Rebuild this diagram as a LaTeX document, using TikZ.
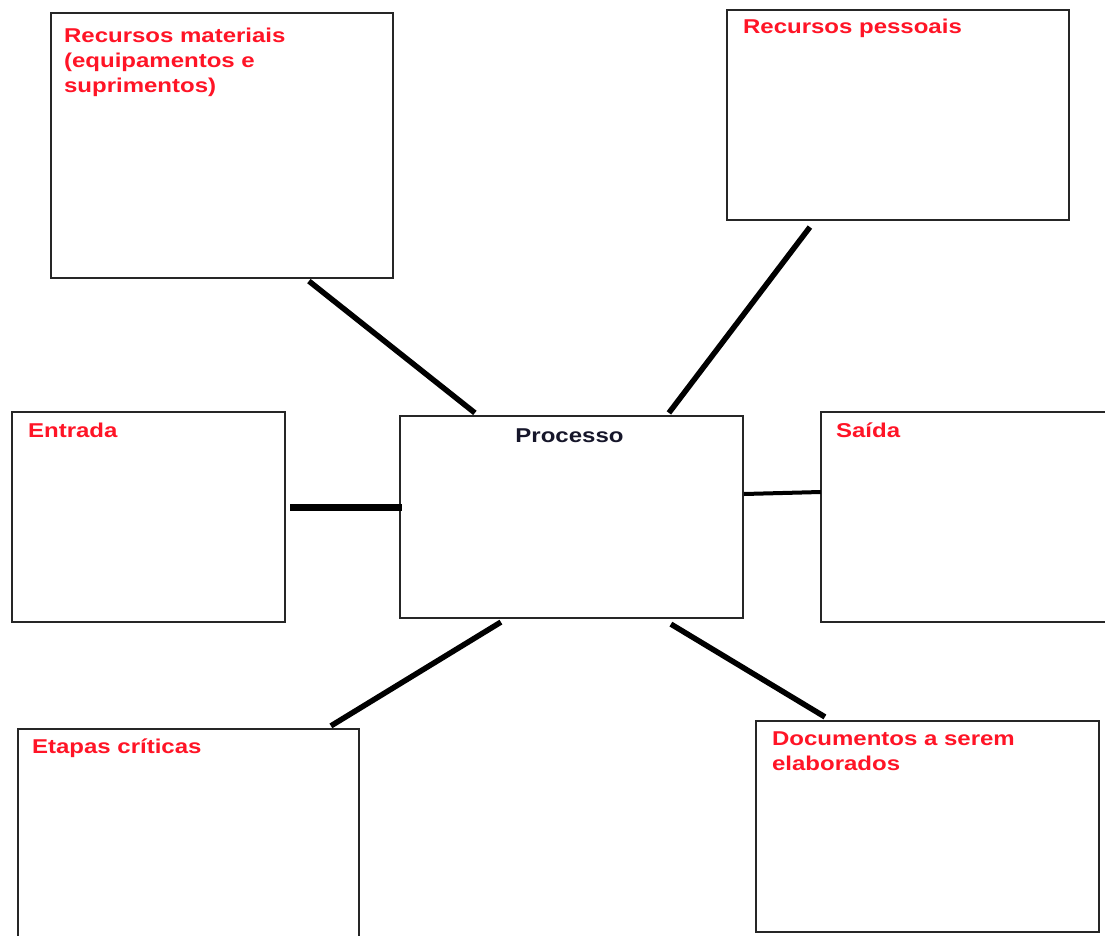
\documentclass[tikz,border=0pt]{standalone}
\usepackage{fontspec}
\newfontfamily\labfont[FakeStretch=1.2]{Liberation Sans}
\usetikzlibrary{calc}
\definecolor{labred}{HTML}{FF1426}
\definecolor{labdark}{HTML}{16162A}
\begin{document}
\begin{tikzpicture}[x=1pt,y=-1pt,
  box/.style={draw=black!85, line width=2.2pt, fill=white, rectangle, inner sep=0pt},
  lab/.style={font=\labfont\bfseries\fontsize{20}{25}\selectfont, text=labred, inner sep=0pt, align=left},
  link/.style={line width=5.5pt, black}]
  \clip (0,0) rectangle (1105,936);
  \fill[white] (0,0) rectangle (1105,936);

  % boxes
  \node[box, minimum width=342pt, minimum height=265pt] (mat)  at (222,145.5) {};
  \node[box, minimum width=342pt, minimum height=210pt] (pes)  at (898,115)   {};
  \node[box, minimum width=273pt, minimum height=210pt] (ent)  at (148.5,517) {};
  \node[box, minimum width=343pt, minimum height=202pt] (proc) at (571.5,517) {};
  \node[box, minimum width=343pt, minimum height=210pt] (sai)  at (992.5,517) {};
  \node[box, minimum width=341pt, minimum height=210pt] (eta)  at (188.5,834) {};
  \node[box, minimum width=343pt, minimum height=211pt] (doc)  at (927.5,826.5) {};

  % labels (multi-line labels are placed by the baseline of their last line)
  \node[lab, anchor=base west] (matT) at ($(mat.north west)+(14,81)$)
    {Recursos materiais\\(equipamentos e\\suprimentos)};
  \node[lab, anchor=base west] (pesT) at ($(pes.north west)+(17,25)$) {Recursos pessoais};
  \node[lab, anchor=base west] (entT) at ($(ent.north west)+(17,27)$) {Entrada};
  \node[lab, anchor=base west] (saiT) at ($(sai.north west)+(16,27)$) {Saída};
  \node[lab, anchor=base west] (etaT) at ($(eta.north west)+(15,26)$) {Etapas críticas};
  \node[lab, anchor=base west] (docT) at ($(doc.north west)+(17,51)$)
    {Documentos a serem\\elaborados};
  \node[lab, text=labdark, anchor=base] (procT) at ($(proc.north)+(-2,28)$) {Processo};

  % connectors
  \draw[link] ($(mat.south west)+(259,2)$) -- ($(proc.north west)+(76,-2)$);
  \draw[link] ($(pes.south west)+(84,6)$) -- ($(proc.north west)+(270,-2)$);
  \draw[link, line width=7pt] ($(ent.east)+(4,-10)$) -- ($(proc.west)+(3,-10)$);
  \draw[link, line width=4pt] ($(proc.east)+(0,-23)$) -- ($(sai.west)+(1,-25)$);
  \draw[link] ($(proc.south west)+(102,3)$) -- ($(eta.north west)+(314,-2)$);
  \draw[link] ($(proc.south west)+(272,5)$) -- ($(doc.north west)+(70,-3)$);
\end{tikzpicture}
\end{document}
